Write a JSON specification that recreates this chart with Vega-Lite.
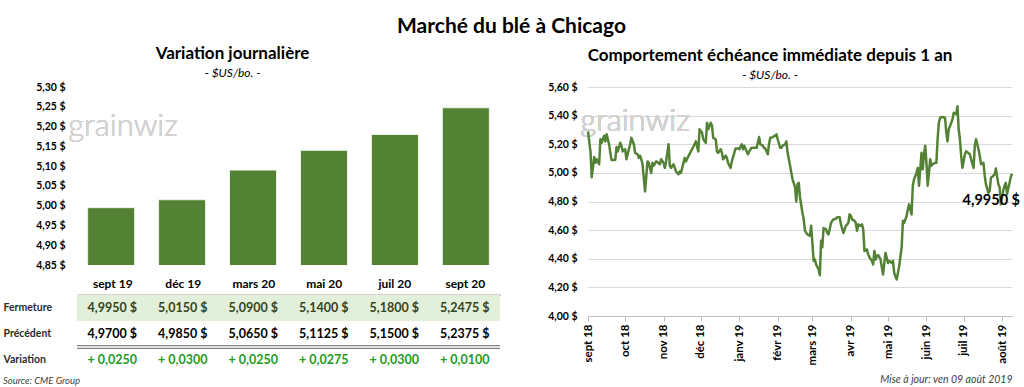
{
  "$schema": "https://vega.github.io/schema/vega-lite/v6.json",
  "padding": {"left": 3, "top": 16, "right": 0, "bottom": 0},
  "background": "white",
  "title": {"text": "Marché du blé à Chicago", "fontSize": 21, "fontWeight": "bold", "color": "#000000", "anchor": "middle", "offset": 8},
  "datasets": {
    "contracts": [
      {"contract": "sept 19", "close": 4.995, "prev": 4.97, "change": 0.025},
      {"contract": "déc 19", "close": 5.015, "prev": 4.985, "change": 0.03},
      {"contract": "mars 20", "close": 5.09, "prev": 5.065, "change": 0.025},
      {"contract": "mai 20", "close": 5.14, "prev": 5.1125, "change": 0.0275},
      {"contract": "juil 20", "close": 5.18, "prev": 5.15, "change": 0.03},
      {"contract": "sept 20", "close": 5.2475, "prev": 5.2375, "change": 0.01}
    ],
    "front": [
      {"date": "2018-09-01", "price": 5.29}, {"date": "2018-09-03", "price": 5.15}, {"date": "2018-09-04", "price": 4.97},
      {"date": "2018-09-06", "price": 5.11}, {"date": "2018-09-07", "price": 5.07}, {"date": "2018-09-08", "price": 5.095},
      {"date": "2018-09-10", "price": 5.06}, {"date": "2018-09-11", "price": 5.235}, {"date": "2018-09-12", "price": 5.21},
      {"date": "2018-09-14", "price": 5.26}, {"date": "2018-09-15", "price": 5.22}, {"date": "2018-09-16", "price": 5.27},
      {"date": "2018-09-18", "price": 5.2}, {"date": "2018-09-19", "price": 5.14}, {"date": "2018-09-20", "price": 5.09},
      {"date": "2018-09-23", "price": 5.09}, {"date": "2018-09-24", "price": 5.18}, {"date": "2018-09-25", "price": 5.15},
      {"date": "2018-09-27", "price": 5.21}, {"date": "2018-09-28", "price": 5.19}, {"date": "2018-09-29", "price": 5.15},
      {"date": "2018-10-01", "price": 5.165}, {"date": "2018-10-02", "price": 5.095}, {"date": "2018-10-03", "price": 5.13},
      {"date": "2018-10-05", "price": 5.2}, {"date": "2018-10-06", "price": 5.245}, {"date": "2018-10-08", "price": 5.2},
      {"date": "2018-10-09", "price": 5.14}, {"date": "2018-10-11", "price": 5.13}, {"date": "2018-10-12", "price": 5.105},
      {"date": "2018-10-13", "price": 5.12}, {"date": "2018-10-14", "price": 5.095}, {"date": "2018-10-15", "price": 5.06},
      {"date": "2018-10-17", "price": 4.87}, {"date": "2018-10-19", "price": 5.08}, {"date": "2018-10-20", "price": 5.07},
      {"date": "2018-10-22", "price": 5.0}, {"date": "2018-10-23", "price": 5.07}, {"date": "2018-10-24", "price": 5.05},
      {"date": "2018-10-26", "price": 5.08}, {"date": "2018-10-27", "price": 5.075}, {"date": "2018-10-29", "price": 5.06},
      {"date": "2018-10-30", "price": 5.095}, {"date": "2018-11-01", "price": 5.07}, {"date": "2018-11-02", "price": 5.035},
      {"date": "2018-11-03", "price": 5.08}, {"date": "2018-11-05", "price": 5.2}, {"date": "2018-11-06", "price": 5.05},
      {"date": "2018-11-07", "price": 5.035}, {"date": "2018-11-09", "price": 5.06}, {"date": "2018-11-10", "price": 5.035},
      {"date": "2018-11-11", "price": 5.01}, {"date": "2018-11-13", "price": 4.99}, {"date": "2018-11-14", "price": 5.01},
      {"date": "2018-11-15", "price": 5.0}, {"date": "2018-11-17", "price": 5.07}, {"date": "2018-11-18", "price": 5.105},
      {"date": "2018-11-19", "price": 5.08}, {"date": "2018-11-20", "price": 5.1}, {"date": "2018-11-23", "price": 5.15},
      {"date": "2018-11-26", "price": 5.2}, {"date": "2018-11-27", "price": 5.22}, {"date": "2018-11-29", "price": 5.15},
      {"date": "2018-11-30", "price": 5.305}, {"date": "2018-12-02", "price": 5.28}, {"date": "2018-12-03", "price": 5.235},
      {"date": "2018-12-05", "price": 5.21}, {"date": "2018-12-06", "price": 5.35}, {"date": "2018-12-07", "price": 5.305},
      {"date": "2018-12-09", "price": 5.35}, {"date": "2018-12-10", "price": 5.33}, {"date": "2018-12-11", "price": 5.245},
      {"date": "2018-12-13", "price": 5.235}, {"date": "2018-12-14", "price": 5.15}, {"date": "2018-12-15", "price": 5.14},
      {"date": "2018-12-17", "price": 5.165}, {"date": "2018-12-18", "price": 5.14}, {"date": "2018-12-19", "price": 5.095},
      {"date": "2018-12-21", "price": 5.12}, {"date": "2018-12-22", "price": 5.105}, {"date": "2018-12-23", "price": 5.07},
      {"date": "2018-12-25", "price": 5.035}, {"date": "2018-12-26", "price": 5.08}, {"date": "2018-12-28", "price": 5.14},
      {"date": "2018-12-29", "price": 5.17}, {"date": "2018-12-31", "price": 5.17}, {"date": "2019-01-01", "price": 5.165},
      {"date": "2019-01-03", "price": 5.2}, {"date": "2019-01-04", "price": 5.165}, {"date": "2019-01-05", "price": 5.19},
      {"date": "2019-01-07", "price": 5.15}, {"date": "2019-01-08", "price": 5.13}, {"date": "2019-01-09", "price": 5.15},
      {"date": "2019-01-11", "price": 5.175}, {"date": "2019-01-13", "price": 5.175}, {"date": "2019-01-15", "price": 5.175},
      {"date": "2019-01-16", "price": 5.21}, {"date": "2019-01-17", "price": 5.25}, {"date": "2019-01-18", "price": 5.2},
      {"date": "2019-01-20", "price": 5.19}, {"date": "2019-01-21", "price": 5.175}, {"date": "2019-01-22", "price": 5.17},
      {"date": "2019-01-24", "price": 5.13}, {"date": "2019-01-25", "price": 5.2}, {"date": "2019-01-26", "price": 5.245},
      {"date": "2019-01-28", "price": 5.25}, {"date": "2019-01-30", "price": 5.26}, {"date": "2019-01-31", "price": 5.27},
      {"date": "2019-02-01", "price": 5.235}, {"date": "2019-02-03", "price": 5.175}, {"date": "2019-02-04", "price": 5.175},
      {"date": "2019-02-05", "price": 5.19}, {"date": "2019-02-07", "price": 5.2}, {"date": "2019-02-08", "price": 5.22},
      {"date": "2019-02-09", "price": 5.14}, {"date": "2019-02-11", "price": 5.05}, {"date": "2019-02-12", "price": 5.0},
      {"date": "2019-02-13", "price": 4.955}, {"date": "2019-02-15", "price": 4.9}, {"date": "2019-02-16", "price": 4.8},
      {"date": "2019-02-17", "price": 4.92}, {"date": "2019-02-18", "price": 4.93}, {"date": "2019-02-19", "price": 4.83},
      {"date": "2019-02-21", "price": 4.72}, {"date": "2019-02-22", "price": 4.675}, {"date": "2019-02-23", "price": 4.595},
      {"date": "2019-02-25", "price": 4.57}, {"date": "2019-02-26", "price": 4.565}, {"date": "2019-02-27", "price": 4.56},
      {"date": "2019-02-28", "price": 4.63}, {"date": "2019-03-02", "price": 4.385}, {"date": "2019-03-03", "price": 4.395},
      {"date": "2019-03-04", "price": 4.36}, {"date": "2019-03-06", "price": 4.325}, {"date": "2019-03-07", "price": 4.285},
      {"date": "2019-03-08", "price": 4.525}, {"date": "2019-03-09", "price": 4.48}, {"date": "2019-03-10", "price": 4.615},
      {"date": "2019-03-12", "price": 4.605}, {"date": "2019-03-13", "price": 4.58}, {"date": "2019-03-14", "price": 4.57},
      {"date": "2019-03-16", "price": 4.65}, {"date": "2019-03-17", "price": 4.665}, {"date": "2019-03-18", "price": 4.675},
      {"date": "2019-03-20", "price": 4.68}, {"date": "2019-03-21", "price": 4.69}, {"date": "2019-03-23", "price": 4.69},
      {"date": "2019-03-24", "price": 4.64}, {"date": "2019-03-26", "price": 4.58}, {"date": "2019-03-27", "price": 4.605},
      {"date": "2019-03-28", "price": 4.63}, {"date": "2019-03-30", "price": 4.65}, {"date": "2019-03-31", "price": 4.71},
      {"date": "2019-04-01", "price": 4.7}, {"date": "2019-04-02", "price": 4.675}, {"date": "2019-04-04", "price": 4.665},
      {"date": "2019-04-05", "price": 4.65}, {"date": "2019-04-06", "price": 4.595}, {"date": "2019-04-07", "price": 4.64},
      {"date": "2019-04-09", "price": 4.63}, {"date": "2019-04-10", "price": 4.64}, {"date": "2019-04-11", "price": 4.605},
      {"date": "2019-04-12", "price": 4.455}, {"date": "2019-04-14", "price": 4.465}, {"date": "2019-04-15", "price": 4.43},
      {"date": "2019-04-16", "price": 4.41}, {"date": "2019-04-18", "price": 4.385}, {"date": "2019-04-19", "price": 4.36},
      {"date": "2019-04-20", "price": 4.455}, {"date": "2019-04-21", "price": 4.395}, {"date": "2019-04-22", "price": 4.42},
      {"date": "2019-04-23", "price": 4.425}, {"date": "2019-04-25", "price": 4.395}, {"date": "2019-04-26", "price": 4.34},
      {"date": "2019-04-27", "price": 4.29}, {"date": "2019-04-28", "price": 4.37}, {"date": "2019-04-29", "price": 4.44},
      {"date": "2019-05-01", "price": 4.37}, {"date": "2019-05-02", "price": 4.385}, {"date": "2019-05-04", "price": 4.37},
      {"date": "2019-05-05", "price": 4.385}, {"date": "2019-05-06", "price": 4.3}, {"date": "2019-05-08", "price": 4.255},
      {"date": "2019-05-09", "price": 4.3}, {"date": "2019-05-10", "price": 4.35}, {"date": "2019-05-12", "price": 4.48},
      {"date": "2019-05-13", "price": 4.665}, {"date": "2019-05-14", "price": 4.65}, {"date": "2019-05-16", "price": 4.7},
      {"date": "2019-05-17", "price": 4.745}, {"date": "2019-05-18", "price": 4.78}, {"date": "2019-05-20", "price": 4.71},
      {"date": "2019-05-21", "price": 4.91}, {"date": "2019-05-22", "price": 4.955}, {"date": "2019-05-24", "price": 5.0},
      {"date": "2019-05-25", "price": 5.035}, {"date": "2019-05-26", "price": 4.91}, {"date": "2019-05-28", "price": 5.14},
      {"date": "2019-05-29", "price": 5.025}, {"date": "2019-05-30", "price": 5.13}, {"date": "2019-05-31", "price": 5.19},
      {"date": "2019-06-01", "price": 5.07}, {"date": "2019-06-02", "price": 4.91}, {"date": "2019-06-04", "price": 5.095},
      {"date": "2019-06-05", "price": 5.05}, {"date": "2019-06-06", "price": 5.06}, {"date": "2019-06-08", "price": 5.07},
      {"date": "2019-06-09", "price": 5.07}, {"date": "2019-06-10", "price": 5.235}, {"date": "2019-06-11", "price": 5.35},
      {"date": "2019-06-12", "price": 5.385}, {"date": "2019-06-14", "price": 5.39}, {"date": "2019-06-16", "price": 5.385},
      {"date": "2019-06-17", "price": 5.28}, {"date": "2019-06-18", "price": 5.22}, {"date": "2019-06-19", "price": 5.305},
      {"date": "2019-06-21", "price": 5.35}, {"date": "2019-06-22", "price": 5.375}, {"date": "2019-06-23", "price": 5.42},
      {"date": "2019-06-25", "price": 5.41}, {"date": "2019-06-26", "price": 5.465}, {"date": "2019-06-27", "price": 5.305},
      {"date": "2019-06-28", "price": 5.235}, {"date": "2019-06-29", "price": 5.12}, {"date": "2019-06-30", "price": 5.035},
      {"date": "2019-07-02", "price": 5.13}, {"date": "2019-07-03", "price": 5.15}, {"date": "2019-07-04", "price": 5.145},
      {"date": "2019-07-06", "price": 5.13}, {"date": "2019-07-07", "price": 5.095}, {"date": "2019-07-09", "price": 5.035},
      {"date": "2019-07-10", "price": 5.19}, {"date": "2019-07-11", "price": 5.235}, {"date": "2019-07-13", "price": 5.165},
      {"date": "2019-07-14", "price": 5.12}, {"date": "2019-07-15", "price": 5.06}, {"date": "2019-07-17", "price": 5.07},
      {"date": "2019-07-18", "price": 4.98}, {"date": "2019-07-19", "price": 4.92}, {"date": "2019-07-21", "price": 4.86},
      {"date": "2019-07-22", "price": 4.875}, {"date": "2019-07-23", "price": 4.965}, {"date": "2019-07-25", "price": 4.98},
      {"date": "2019-07-26", "price": 4.99}, {"date": "2019-07-27", "price": 5.03}, {"date": "2019-07-29", "price": 4.92},
      {"date": "2019-07-30", "price": 4.9}, {"date": "2019-07-31", "price": 4.78}, {"date": "2019-08-02", "price": 4.88},
      {"date": "2019-08-03", "price": 4.91}, {"date": "2019-08-04", "price": 4.93}, {"date": "2019-08-05", "price": 4.85},
      {"date": "2019-08-07", "price": 4.93}, {"date": "2019-08-08", "price": 4.97}, {"date": "2019-08-09", "price": 4.995}
    ]
  },
  "spacing": 45,
  "hconcat": [
    {
      "spacing": 6,
      "vconcat": [
        {
          "width": 423,
          "height": 178,
          "title": {"text": "Variation journalière", "subtitle": "- $US/bo. -", "fontSize": 17, "fontWeight": "bold", "subtitleFontSize": 12, "subtitleFontStyle": "italic", "subtitleColor": "#000000", "subtitlePadding": 5, "anchor": "middle", "dx": -56, "offset": 2},
          "data": {"name": "contracts"},
          "layer": [
            {
              "mark": {"type": "text", "text": "grainwiz", "fontSize": 31, "fontWeight": 300, "color": "#d2d2d2", "align": "center", "baseline": "alphabetic", "dx": 12},
              "encoding": {
                "x": {"datum": "sept 19", "type": "nominal", "axis": null},
                "y": {"datum": 5.176, "type": "quantitative",
                  "axis": {"title": null, "format": "$.2f", "values": [4.85, 4.9, 4.95, 5, 5.05, 5.1, 5.15, 5.2, 5.25, 5.3], "labelFontSize": 10.5, "labelFontWeight": "bold", "labelColor": "#000000", "labelPadding": 12, "domain": false, "ticks": false, "gridColor": "#d9d9d9", "minExtent": 74}}
              }
            },
            {
              "mark": {"type": "bar", "color": "#548235", "stroke": "#eef3ea", "strokeWidth": 1, "clip": true},
              "encoding": {
                "x": {"field": "contract", "type": "nominal", "sort": null, "scale": {"paddingInner": 0.337, "paddingOuter": 0.15}, "axis": null},
                "y": {"field": "close", "type": "quantitative", "scale": {"domain": [4.85, 5.3], "zero": false, "nice": false},
                  "axis": {"title": null, "format": "$.2f", "values": [4.85, 4.9, 4.95, 5, 5.05, 5.1, 5.15, 5.2, 5.25, 5.3], "labelFontSize": 10.5, "labelFontWeight": "bold", "labelColor": "#000000", "labelPadding": 12, "domain": false, "ticks": false, "gridColor": "#d9d9d9", "minExtent": 74}}
              }
            }
          ]
        },
        {
          "width": 423,
          "height": 78,
          "title": {"text": "Source: CME Group", "orient": "bottom", "anchor": "start", "frame": "bounds", "fontSize": 9.5, "fontStyle": "italic", "fontWeight": "normal", "color": "#404040", "offset": 3},
          "data": {"name": "contracts"},
          "transform": [{"fold": ["close", "prev", "change"], "as": ["row", "val"]}],
          "encoding": {
            "y": {"field": "row", "type": "nominal",
              "scale": {"domain": ["close", "prev", "change"], "paddingInner": 0, "paddingOuter": 0},
              "axis": {"title": null, "domain": false, "ticks": false, "grid": false, "labelAlign": "left", "labelPadding": 74, "labelFontSize": 10.5, "labelFontWeight": "bold", "labelColor": "#2b2b2b",
                "labelExpr": "datum.value == 'close' ? 'Fermeture' : datum.value == 'prev' ? 'Précédent' : 'Variation'"}}
          },
          "layer": [
            {
              "transform": [{"filter": "datum.row == 'close'"}],
              "mark": {"type": "rect", "color": "#e2efda"}
            },
            {
              "transform": [{"filter": "datum.row == 'change'"}],
              "mark": {"type": "rule", "color": "#808080", "strokeWidth": 3, "yOffset": -13}
            },
            {
              "transform": [{"filter": "datum.row == 'change'"}],
              "mark": {"type": "rule", "color": "#e6e6e6", "strokeWidth": 0.8, "yOffset": -13}
            },
            {
              "transform": [{"filter": "datum.row != 'change'"}],
              "mark": {"type": "text", "fontSize": 12.5, "fontWeight": "bold"},
              "encoding": {
                "x": {"field": "contract", "type": "nominal", "sort": null, "scale": {"paddingInner": 0.337, "paddingOuter": 0.15},
                  "axis": {"orient": "top", "title": null, "labelAngle": 0, "labelFontSize": 12, "labelFontWeight": "bold", "labelColor": "#000000", "domain": true, "domainColor": "#595959", "domainWidth": 1.5, "ticks": false, "grid": false, "labelPadding": 5}},
                "text": {"field": "val", "type": "quantitative", "format": "$.4f"},
                "color": {"condition": {"test": "datum.row == 'close'", "value": "#36451c"}, "value": "#000000"}
              }
            },
            {
              "transform": [{"filter": "datum.row == 'change'"}],
              "mark": {"type": "text", "fontSize": 12.5, "fontWeight": "bold", "color": "#1f9a1f"},
              "encoding": {
                "x": {"field": "contract", "type": "nominal", "sort": null, "scale": {"paddingInner": 0.337, "paddingOuter": 0.15},
                  "axis": {"orient": "top", "title": null, "labelAngle": 0, "labelFontSize": 12, "labelFontWeight": "bold", "labelColor": "#000000", "domain": true, "domainColor": "#595959", "domainWidth": 1.5, "ticks": false, "grid": false, "labelPadding": 5}},
                "text": {"field": "val", "type": "quantitative", "format": "=+8.4f"}
              }
            }
          ]
        }
      ]
    },
    {
      "width": 424,
      "height": 229,
      "title": {"text": "Comportement échéance immédiate depuis 1 an", "subtitle": "- $US/bo. -", "fontSize": 17, "fontWeight": "bold", "subtitleFontSize": 12, "subtitleFontStyle": "italic", "subtitleColor": "#000000", "subtitlePadding": 5, "anchor": "middle", "dx": -30, "offset": 0},
      "data": {"name": "front"},
      "encoding": {
        "x": {"field": "date", "type": "temporal",
          "scale": {"type": "utc", "domain": [{"year": 2018, "month": 9, "date": 1, "utc": true}, {"year": 2019, "month": 8, "date": 9, "utc": true}]},
          "axis": {"title": "Mise à jour: ven 09 août 2019", "titleAnchor": "end", "titleFontStyle": "italic", "titleFontWeight": "normal", "titleFontSize": 10.5, "titleColor": "#404040", "titlePadding": 10,
            "tickCount": {"interval": "month", "step": 1},
            "labelExpr": "['janv','févr','mars','avr','mai','juin','juil','août','sept','oct','nov','déc'][utcmonth(datum.value)] + ' ' + utcFormat(datum.value, '%y')",
            "labelAngle": -90, "labelFontWeight": "bold", "labelFontSize": 11.5, "labelColor": "#000000", "labelPadding": 3, "labelOverlap": false, "labelFlush": false,
            "grid": false, "domainColor": "#bfbfbf", "tickColor": "#bfbfbf", "tickSize": 5}},
        "y": {"field": "price", "type": "quantitative", "scale": {"domain": [4, 5.6], "zero": false, "nice": false},
          "axis": {"title": null, "format": "$.2f", "values": [4, 4.2, 4.4, 4.6, 4.8, 5, 5.2, 5.4, 5.6], "labelFontSize": 10.5, "labelFontWeight": "bold", "labelColor": "#000000", "labelPadding": 11, "domain": false, "ticks": false, "gridColor": "#d9d9d9"}}
      },
      "layer": [
        {
          "mark": {"type": "text", "text": "grainwiz", "fontSize": 31, "fontWeight": 300, "color": "#d2d2d2", "align": "center", "baseline": "alphabetic"},
          "encoding": {
            "x": {"datum": {"year": 2018, "month": 10, "date": 9, "utc": true}, "type": "temporal",
              "axis": {"title": "Mise à jour: ven 09 août 2019", "titleAnchor": "end", "titleFontStyle": "italic", "titleFontWeight": "normal", "titleFontSize": 10.5, "titleColor": "#404040", "titlePadding": 10,
                "tickCount": {"interval": "month", "step": 1},
                "labelExpr": "['janv','févr','mars','avr','mai','juin','juil','août','sept','oct','nov','déc'][utcmonth(datum.value)] + ' ' + utcFormat(datum.value, '%y')",
                "labelAngle": -90, "labelFontWeight": "bold", "labelFontSize": 11.5, "labelColor": "#000000", "labelPadding": 3, "labelOverlap": false, "labelFlush": false,
                "grid": false, "domainColor": "#bfbfbf", "tickColor": "#bfbfbf", "tickSize": 5}},
            "y": {"datum": 5.293, "type": "quantitative",
              "axis": {"title": null, "format": "$.2f", "values": [4, 4.2, 4.4, 4.6, 4.8, 5, 5.2, 5.4, 5.6], "labelFontSize": 10.5, "labelFontWeight": "bold", "labelColor": "#000000", "labelPadding": 11, "domain": false, "ticks": false, "gridColor": "#d9d9d9"}}
          }
        },
        {
          "mark": {"type": "line", "color": "#548235", "strokeWidth": 2.5, "strokeJoin": "round"}
        },
        {
          "transform": [{"filter": "datum.price == 4.995"}],
          "mark": {"type": "text", "align": "right", "baseline": "middle", "dx": 8, "dy": 27, "fontSize": 14.5, "fontWeight": "bold", "color": "#000000"},
          "encoding": {
            "text": {"field": "price", "type": "quantitative", "format": "$.4f"}
          }
        }
      ]
    }
  ],
  "config": {
    "font": "Lato",
    "view": {"stroke": null},
    "locale": {"number": {"decimal": ",", "thousands": " ", "grouping": [3], "currency": ["", " $"]}}
  }
}
